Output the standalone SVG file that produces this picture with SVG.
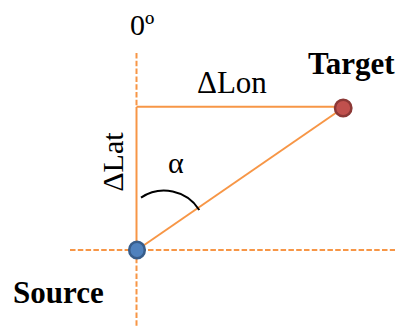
<svg xmlns="http://www.w3.org/2000/svg" width="402" height="327" viewBox="0 0 402 327">
<style>
.solid{stroke:#F79646;stroke-width:2;fill:none}
.dash{stroke:#F79646;stroke-width:2;fill:none;stroke-dasharray:5.5 2.3}
.arc{stroke:#000;stroke-width:2;fill:none}
.t{font-family:'Liberation Serif','DejaVu Serif',serif;font-size:30px;fill:#000}
.b{font-family:'Liberation Serif','DejaVu Serif',serif;font-size:31px;font-weight:bold;fill:#000}
</style>
<rect width="402" height="327" fill="#fff"/>
<g id="connectors">
<line class="dash" x1="136.5" y1="53" x2="136.5" y2="107"/>
<line class="dash" x1="136.5" y1="250" x2="136.5" y2="327"/>
<line class="dash" x1="70" y1="250" x2="395" y2="250"/>
<line class="solid" x1="136.5" y1="107" x2="136.5" y2="250"/>
<line class="solid" x1="136.5" y1="106.8" x2="336" y2="106.8"/>
<line class="solid" x1="137" y1="250" x2="343" y2="108"/>
<path class="arc" d="M141,197.7 A41.7,41.7 0 0 1 199.3,210"/>
</g>
<g id="source">
<ellipse cx="137" cy="250" rx="7.8" ry="8.3" fill="#4F81BD" stroke="#385D8A" stroke-width="2.5"/>
</g>
<g id="target">
<ellipse cx="343.2" cy="108" rx="8.2" ry="8.3" fill="#C0504D" stroke="#8C3836" stroke-width="2.5"/>
</g>
<g id="labels">
<text class="t" x="130" y="35" font-family="Liberation Serif, serif">0º</text>
<text class="t" x="197" y="93" font-family="Liberation Serif, serif" style="font-size:31px">ΔLon</text>
<text class="t" transform="translate(122.7,191.7) rotate(-90)" font-family="Liberation Serif, serif">ΔLat</text>
<text class="t" x="168" y="173" font-family="Liberation Serif, serif">α</text>
<text class="b" x="308" y="74" font-family="Liberation Serif, serif">Target</text>
<text class="b" x="13" y="303" font-family="Liberation Serif, serif">Source</text>
</g>
</svg>
